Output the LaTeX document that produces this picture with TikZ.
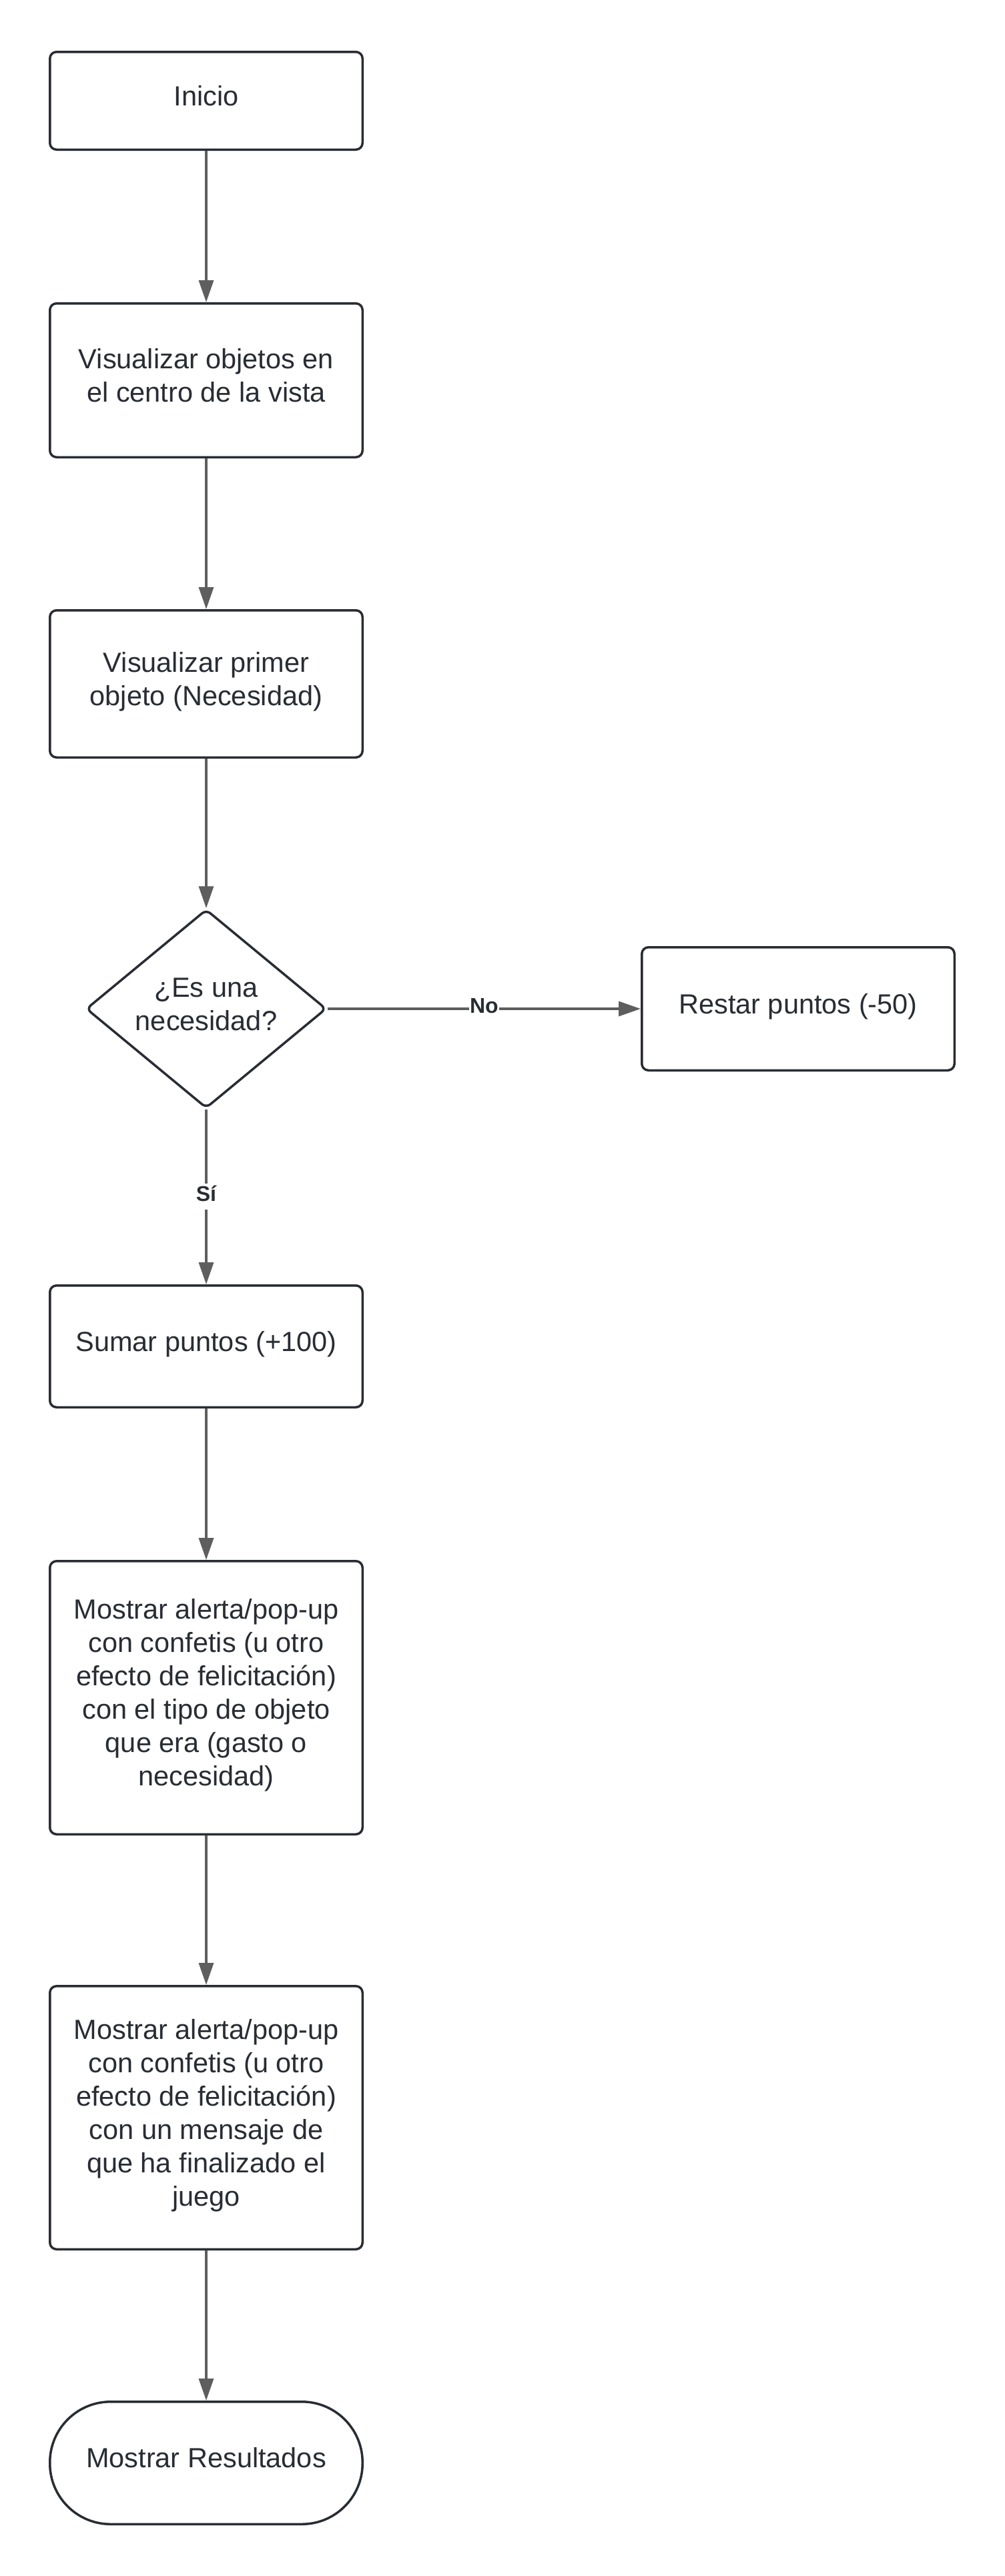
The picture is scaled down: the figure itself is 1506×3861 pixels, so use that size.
\documentclass[tikz,border=0pt]{standalone}
\usepackage{fontspec}
\setmainfont{Liberation Sans}
\usetikzlibrary{arrows.meta,shapes.geometric}
\definecolor{ink}{HTML}{282C33}
\definecolor{arr}{HTML}{5E5E5E}
\newcommand\ls{\rule[-18pt]{0pt}{50pt}}
\begin{document}
\begin{tikzpicture}[x=1pt,y=-1pt,
  txt/.style={align=center, text=ink, font=\fontsize{41.5pt}{50pt}\selectfont},
  box/.style={txt, draw=ink, line width=3.5pt, rounded corners=10pt, minimum width=468.5pt, inner sep=0pt},
  dec/.style={txt, diamond, aspect=1.2, draw=ink, line width=3.5pt, rounded corners=8pt, minimum width=360pt, minimum height=298pt, inner sep=0pt},
  term/.style={box, rounded corners=91pt},
  flow/.style={draw=arr, line width=3.5pt, -{Triangle[length=33pt,width=22pt]}},
  lbl/.style={fill=white, text=ink, font=\fontsize{32pt}{38pt}\selectfont\bfseries, text height=26pt, text depth=13pt, inner sep=0pt, inner xsep=1pt}
]
\fill[white] (0,0) rectangle (1506,3861);
\useasboundingbox (0,0) rectangle (1506,3861);

\node[box, minimum height=146.5pt] (inicio) at (309,151) {\ls Inicio};
\node[box, minimum height=230.5pt] (vis) at (309,570) {\ls Visualizar objetos en\\\ls el centro de la vista};
\node[box, minimum height=220.5pt] (prim) at (309,1025) {\ls Visualizar primer\\\ls objeto (Necesidad)};
\node[dec] (dec) at (309,1512) {\ls ¿Es una\\\ls necesidad?};
\node[box, minimum width=468.5pt, minimum height=184.5pt] (restar) at (1196,1512) {\ls Restar puntos (-50)};
\node[box, minimum height=182.5pt] (sumar) at (309,2018) {\ls Sumar puntos (+100)};
\node[box, minimum height=409.5pt] (alerta) at (309,2544.5) {\ls Mostrar alerta/pop-up\\\ls con confetis (u otro\\\ls efecto de felicitación)\\\ls con el tipo de objeto\\\ls que era (gasto o\\\ls necesidad)};
\node[box, minimum height=394.5pt] (fin) at (309,3174) {\ls Mostrar alerta/pop-up\\\ls con confetis (u otro\\\ls efecto de felicitación)\\\ls con un mensaje de\\\ls que ha finalizado el\\\ls juego};
\node[term, minimum height=183.5pt] (res) at (309,3691.5) {\ls Mostrar Resultados};

\draw[flow] (inicio.south) -- (vis.north);
\draw[flow] (vis.south) -- (prim.north);
\draw[flow] (prim.south) -- (dec.north);
\draw[flow] (dec.east) -- (restar.west) node[lbl, pos=0.5] {No};
\draw[flow] (dec.south) -- (sumar.north) node[lbl, midway] {Sí};
\draw[flow] (sumar.south) -- (alerta.north);
\draw[flow] (alerta.south) -- (fin.north);
\draw[flow] (fin.south) -- (res.north);
\end{tikzpicture}
\end{document}
